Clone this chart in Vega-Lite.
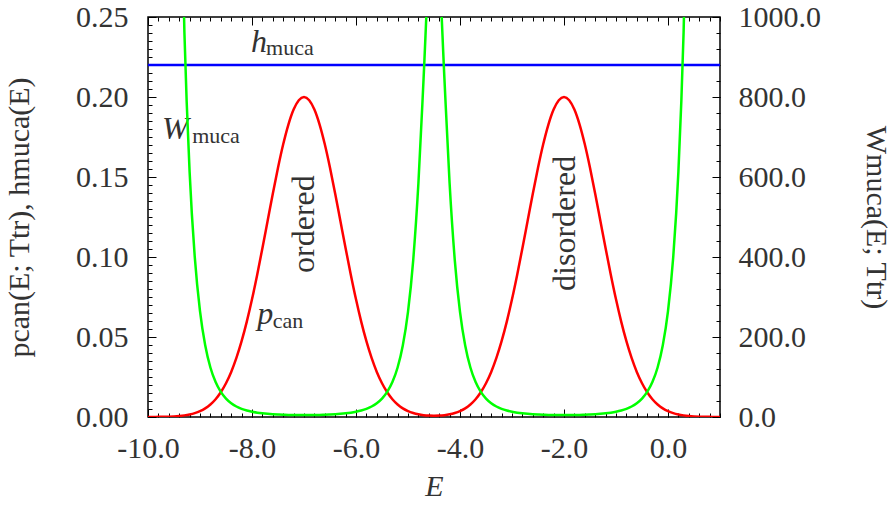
{
  "$schema": "https://vega.github.io/schema/vega-lite/v6.json",
  "width": 572,
  "height": 400,
  "autosize": "none",
  "padding": {"left": 148, "top": 17, "right": 175, "bottom": 90},
  "background": "white",
  "config": {
    "view": {"stroke": "#000000", "strokeWidth": 1.5},
    "font": "Liberation Serif",
    "axis": {
      "labelFont": "Liberation Serif",
      "labelFontSize": 30,
      "labelColor": "#333333",
      "titleFont": "Liberation Serif",
      "titleFontSize": 30,
      "titleColor": "#333333",
      "titleFontWeight": "normal",
      "domain": false,
      "grid": false,
      "ticks": true,
      "tickColor": "#000000",
      "tickWidth": 1,
      "labelFlush": false
    }
  },
  "datasets": {
    "curves": [
      {"E":-10.0,"p":0.0000247},
      {"E":-9.9,"p":0.0000445},
      {"E":-9.8,"p":0.0000787},
      {"E":-9.7,"p":0.000136},
      {"E":-9.6,"p":0.000232,"W":4181},
      {"E":-9.5,"p":0.000386,"W":2513},
      {"E":-9.4,"p":0.000630,"W":1540},
      {"E":-9.3,"p":0.001008,"W":962},
      {"E":-9.2,"p":0.001581,"W":613.5},
      {"E":-9.1,"p":0.002431,"W":399.0},
      {"E":-9.0,"p":0.003663,"W":264.8},
      {"E":-8.9,"p":0.005410,"W":179.3},
      {"E":-8.8,"p":0.007833,"W":123.8},
      {"E":-8.7,"p":0.011115,"W":87.27},
      {"E":-8.6,"p":0.015461,"W":62.74},
      {"E":-8.5,"p":0.021080,"W":46.02},
      {"E":-8.4,"p":0.028172,"W":34.43},
      {"E":-8.3,"p":0.036904,"W":26.28},
      {"E":-8.2,"p":0.047386,"W":20.47},
      {"E":-8.1,"p":0.059640,"W":16.26},
      {"E":-8.0,"p":0.073576,"W":13.18},
      {"E":-7.9,"p":0.088972,"W":10.90},
      {"E":-7.8,"p":0.105458,"W":9.198},
      {"E":-7.7,"p":0.122526,"W":7.917},
      {"E":-7.6,"p":0.139536,"W":6.952},
      {"E":-7.5,"p":0.155760,"W":6.228},
      {"E":-7.4,"p":0.170428,"W":5.692},
      {"E":-7.3,"p":0.182786,"W":5.307},
      {"E":-7.2,"p":0.192158,"W":5.048},
      {"E":-7.1,"p":0.198010,"W":4.899},
      {"E":-7.0,"p":0.2,"W":4.85},
      {"E":-6.9,"p":0.198010,"W":4.899},
      {"E":-6.8,"p":0.192158,"W":5.048},
      {"E":-6.7,"p":0.182786,"W":5.307},
      {"E":-6.6,"p":0.170428,"W":5.692},
      {"E":-6.5,"p":0.155760,"W":6.228},
      {"E":-6.4,"p":0.139536,"W":6.952},
      {"E":-6.3,"p":0.122526,"W":7.917},
      {"E":-6.2,"p":0.105458,"W":9.198},
      {"E":-6.1,"p":0.088972,"W":10.90},
      {"E":-6.0,"p":0.073576,"W":13.18},
      {"E":-5.9,"p":0.059640,"W":16.26},
      {"E":-5.8,"p":0.047386,"W":20.47},
      {"E":-5.7,"p":0.036904,"W":26.28},
      {"E":-5.6,"p":0.028172,"W":34.43},
      {"E":-5.5,"p":0.021081,"W":46.01},
      {"E":-5.4,"p":0.015463,"W":62.73},
      {"E":-5.3,"p":0.011119,"W":87.24},
      {"E":-5.2,"p":0.007840,"W":123.7},
      {"E":-5.1,"p":0.005424,"W":178.8},
      {"E":-5.0,"p":0.003688,"W":263.0},
      {"E":-4.9,"p":0.002476,"W":391.8},
      {"E":-4.8,"p":0.001660,"W":584.3},
      {"E":-4.7,"p":0.001145,"W":847.2},
      {"E":-4.6,"p":0.000862,"W":1125},
      {"E":-4.5,"p":0.000772,"W":1256},
      {"E":-4.4,"p":0.000862,"W":1125},
      {"E":-4.3,"p":0.001145,"W":847.2},
      {"E":-4.2,"p":0.001660,"W":584.3},
      {"E":-4.1,"p":0.002476,"W":391.8},
      {"E":-4.0,"p":0.003688,"W":263.0},
      {"E":-3.9,"p":0.005424,"W":178.8},
      {"E":-3.8,"p":0.007840,"W":123.7},
      {"E":-3.7,"p":0.011119,"W":87.24},
      {"E":-3.6,"p":0.015463,"W":62.73},
      {"E":-3.5,"p":0.021081,"W":46.01},
      {"E":-3.4,"p":0.028172,"W":34.43},
      {"E":-3.3,"p":0.036904,"W":26.28},
      {"E":-3.2,"p":0.047386,"W":20.47},
      {"E":-3.1,"p":0.059640,"W":16.26},
      {"E":-3.0,"p":0.073576,"W":13.18},
      {"E":-2.9,"p":0.088972,"W":10.90},
      {"E":-2.8,"p":0.105458,"W":9.198},
      {"E":-2.7,"p":0.122526,"W":7.917},
      {"E":-2.6,"p":0.139536,"W":6.952},
      {"E":-2.5,"p":0.155760,"W":6.228},
      {"E":-2.4,"p":0.170428,"W":5.692},
      {"E":-2.3,"p":0.182786,"W":5.307},
      {"E":-2.2,"p":0.192158,"W":5.048},
      {"E":-2.1,"p":0.198010,"W":4.899},
      {"E":-2.0,"p":0.2,"W":4.85},
      {"E":-1.9,"p":0.198010,"W":4.899},
      {"E":-1.8,"p":0.192158,"W":5.048},
      {"E":-1.7,"p":0.182786,"W":5.307},
      {"E":-1.6,"p":0.170428,"W":5.692},
      {"E":-1.5,"p":0.155760,"W":6.228},
      {"E":-1.4,"p":0.139536,"W":6.952},
      {"E":-1.3,"p":0.122526,"W":7.917},
      {"E":-1.2,"p":0.105458,"W":9.198},
      {"E":-1.1,"p":0.088972,"W":10.90},
      {"E":-1.0,"p":0.073576,"W":13.18},
      {"E":-0.9,"p":0.059640,"W":16.26},
      {"E":-0.8,"p":0.047386,"W":20.47},
      {"E":-0.7,"p":0.036904,"W":26.28},
      {"E":-0.6,"p":0.028172,"W":34.43},
      {"E":-0.5,"p":0.021080,"W":46.02},
      {"E":-0.4,"p":0.015461,"W":62.74},
      {"E":-0.3,"p":0.011115,"W":87.27},
      {"E":-0.2,"p":0.007833,"W":123.8},
      {"E":-0.1,"p":0.005410,"W":179.3},
      {"E":0.0,"p":0.003663,"W":264.8},
      {"E":0.1,"p":0.002431,"W":399.0},
      {"E":0.2,"p":0.001581,"W":613.5},
      {"E":0.3,"p":0.001008,"W":962},
      {"E":0.4,"p":0.000630,"W":1540},
      {"E":0.5,"p":0.000386,"W":2513},
      {"E":0.6,"p":0.000232,"W":4181},
      {"E":0.7,"p":0.000136},
      {"E":0.8,"p":0.0000787},
      {"E":0.9,"p":0.0000445},
      {"E":1.0,"p":0.0000247}
    ]
  },
  "layer": [
    {
      "layer": [
        {
          "data": {"name": "curves"},
          "mark": {"type": "line", "color": "#ff0000", "strokeWidth": 2.5, "clip": true, "interpolate": "monotone"},
          "encoding": {
            "x": {
              "field": "E", "type": "quantitative",
              "scale": {"domain": [-10, 1], "nice": false, "zero": false},
              "axis": {
                "orient": "bottom",
                "title": "E",
                "titleFontStyle": "italic",
                "titlePadding": 8,
                "values": [-10,-8,-6,-4,-2,0],
                "labelExpr": "replace(format(datum.value, '.1f'), '\u2212', '-')",
                "offset": -8,
                "tickSize": 8,
                "labelPadding": 16
              }
            },
            "y": {
              "field": "p", "type": "quantitative",
              "scale": {"domain": [0, 0.25], "nice": false, "zero": false},
              "axis": {
                "orient": "left",
                "title": "pcan(E; Ttr), hmuca(E)",
                "titlePadding": 41,
                "values": [0,0.05,0.1,0.15,0.2,0.25],
                "format": ".2f",
                "offset": -8,
                "tickSize": 8,
                "labelPadding": 20
              }
            }
          }
        },
        {
          "data": {"values": [{}]},
          "mark": {"type": "rule", "color": "#0000ff", "strokeWidth": 2.5},
          "encoding": {"y": {"datum": 0.22, "type": "quantitative"}}
        },
        {
          "data": {"values": [{}]},
          "mark": {"type": "text", "text": "h", "font": "Liberation Serif", "fontStyle": "italic", "fontSize": 32, "align": "left", "baseline": "alphabetic", "color": "#333333"},
          "encoding": {"x": {"datum": -8.02, "type": "quantitative"}, "y": {"datum": 0.228, "type": "quantitative"}}
        },
        {
          "data": {"values": [{}]},
          "mark": {"type": "text", "text": "muca", "font": "Liberation Serif", "fontSize": 22, "align": "left", "baseline": "alphabetic", "color": "#333333"},
          "encoding": {"x": {"datum": -7.73, "type": "quantitative"}, "y": {"datum": 0.2265, "type": "quantitative"}}
        },
        {
          "data": {"values": [{}]},
          "mark": {"type": "text", "text": "W", "font": "Liberation Serif", "fontStyle": "italic", "fontSize": 32, "align": "left", "baseline": "alphabetic", "color": "#333333"},
          "encoding": {"x": {"datum": -9.73, "type": "quantitative"}, "y": {"datum": 0.174, "type": "quantitative"}}
        },
        {
          "data": {"values": [{}]},
          "mark": {"type": "text", "text": "muca", "font": "Liberation Serif", "fontSize": 22, "align": "left", "baseline": "alphabetic", "color": "#333333"},
          "encoding": {"x": {"datum": -9.15, "type": "quantitative"}, "y": {"datum": 0.1712, "type": "quantitative"}}
        },
        {
          "data": {"values": [{}]},
          "mark": {"type": "text", "text": "p", "font": "Liberation Serif", "fontStyle": "italic", "fontSize": 32, "align": "left", "baseline": "alphabetic", "color": "#333333"},
          "encoding": {"x": {"datum": -7.90, "type": "quantitative"}, "y": {"datum": 0.0581, "type": "quantitative"}}
        },
        {
          "data": {"values": [{}]},
          "mark": {"type": "text", "text": "can", "font": "Liberation Serif", "fontSize": 22, "align": "left", "baseline": "alphabetic", "color": "#333333"},
          "encoding": {"x": {"datum": -7.60, "type": "quantitative"}, "y": {"datum": 0.0556, "type": "quantitative"}}
        },
        {
          "data": {"values": [{}]},
          "mark": {"type": "text", "text": "ordered", "font": "Liberation Serif", "fontSize": 32, "angle": 270, "align": "center", "baseline": "alphabetic", "color": "#333333"},
          "encoding": {"x": {"datum": -6.80, "type": "quantitative"}, "y": {"datum": 0.1206, "type": "quantitative"}}
        },
        {
          "data": {"values": [{}]},
          "mark": {"type": "text", "text": "disordered", "font": "Liberation Serif", "fontSize": 32, "angle": 270, "align": "center", "baseline": "alphabetic", "color": "#333333"},
          "encoding": {"x": {"datum": -1.79, "type": "quantitative"}, "y": {"datum": 0.121, "type": "quantitative"}}
        }
      ]
    },
    {
      "data": {"name": "curves"},
      "mark": {"type": "line", "color": "#00ff00", "strokeWidth": 2.5, "clip": true, "interpolate": "monotone"},
      "encoding": {
        "x": {
          "field": "E", "type": "quantitative",
          "scale": {"domain": [-10, 1], "nice": false, "zero": false},
          "axis": {
            "orient": "top",
            "title": null,
            "labels": false,
            "values": [-10,-8,-6,-4,-2,0],
            "offset": -8,
            "tickSize": 8
          }
        },
        "y": {
          "field": "W", "type": "quantitative",
          "scale": {"domain": [0, 1000], "nice": false, "zero": false},
          "axis": {
            "orient": "right",
            "title": "Wmuca(E; Ttr)",
            "titlePadding": 40,
            "values": [0,200,400,600,800,1000],
            "format": ".1f",
            "offset": -8,
            "tickSize": 8,
            "labelPadding": 18
          }
        }
      }
    },
    {
      "data": {"name": "curves"},
      "mark": {"type": "line", "opacity": 0, "strokeWidth": 0},
      "encoding": {
        "x": {
          "field": "E", "type": "quantitative",
          "scale": {"domain": [-10, 1], "nice": false, "zero": false},
          "axis": {
            "orient": "bottom",
            "title": null,
            "labels": false,
            "values": [-10,-9.8,-9.6,-9.4,-9.2,-9,-8.8,-8.6,-8.4,-8.2,-8,-7.8,-7.6,-7.4,-7.2,-7,-6.8,-6.6,-6.4,-6.2,-6,-5.8,-5.6,-5.4,-5.2,-5,-4.8,-4.6,-4.4,-4.2,-4,-3.8,-3.6,-3.4,-3.2,-3,-2.8,-2.6,-2.4,-2.2,-2,-1.8,-1.6,-1.4,-1.2,-1,-0.8,-0.6,-0.4,-0.2,0,0.2,0.4,0.6,0.8,1],
            "offset": -4,
            "tickSize": 4
          }
        },
        "y": {
          "field": "p", "type": "quantitative",
          "scale": {"domain": [0, 0.25], "nice": false, "zero": false},
          "axis": {
            "orient": "left",
            "title": null,
            "labels": false,
            "values": [0,0.005,0.01,0.015,0.02,0.025,0.03,0.035,0.04,0.045,0.05,0.055,0.06,0.065,0.07,0.075,0.08,0.085,0.09,0.095,0.1,0.105,0.11,0.115,0.12,0.125,0.13,0.135,0.14,0.145,0.15,0.155,0.16,0.165,0.17,0.175,0.18,0.185,0.19,0.195,0.2,0.205,0.21,0.215,0.22,0.225,0.23,0.235,0.24,0.245,0.25],
            "offset": -4,
            "tickSize": 4
          }
        }
      }
    },
    {
      "data": {"name": "curves"},
      "mark": {"type": "line", "opacity": 0, "strokeWidth": 0},
      "encoding": {
        "x": {
          "field": "E", "type": "quantitative",
          "scale": {"domain": [-10, 1], "nice": false, "zero": false},
          "axis": {
            "orient": "top",
            "title": null,
            "labels": false,
            "values": [-10,-9.8,-9.6,-9.4,-9.2,-9,-8.8,-8.6,-8.4,-8.2,-8,-7.8,-7.6,-7.4,-7.2,-7,-6.8,-6.6,-6.4,-6.2,-6,-5.8,-5.6,-5.4,-5.2,-5,-4.8,-4.6,-4.4,-4.2,-4,-3.8,-3.6,-3.4,-3.2,-3,-2.8,-2.6,-2.4,-2.2,-2,-1.8,-1.6,-1.4,-1.2,-1,-0.8,-0.6,-0.4,-0.2,0,0.2,0.4,0.6,0.8,1],
            "offset": -4,
            "tickSize": 4
          }
        },
        "y": {
          "field": "W", "type": "quantitative",
          "scale": {"domain": [0, 1000], "nice": false, "zero": false},
          "axis": {
            "orient": "right",
            "title": null,
            "labels": false,
            "values": [0,40,80,120,160,200,240,280,320,360,400,440,480,520,560,600,640,680,720,760,800,840,880,920,960,1000],
            "offset": -4,
            "tickSize": 4
          }
        }
      }
    }
  ],
  "resolve": {"scale": {"x": "independent", "y": "independent"}}
}
